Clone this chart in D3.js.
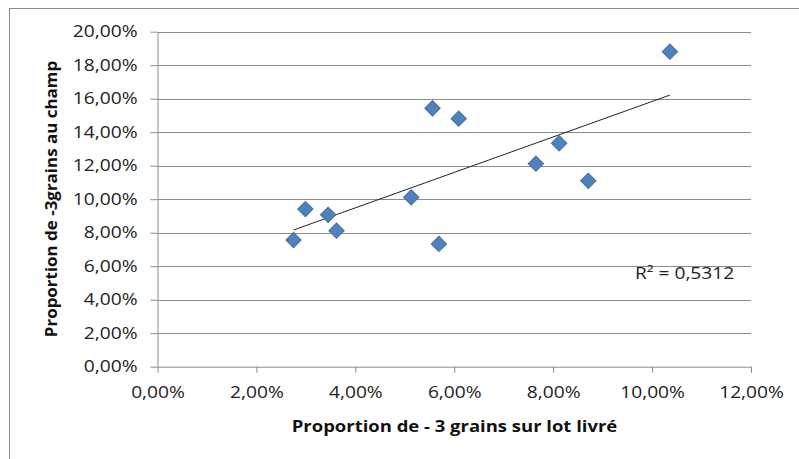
<!DOCTYPE html>
<html><head><meta charset="utf-8">
<script src="https://cdn.jsdelivr.net/npm/d3@7"></script>
<style>body{margin:0;background:#fff}svg{display:block}text{font-family:"Open Sans",sans-serif}</style>
</head><body><svg id="c" width="799" height="459"></svg>
<script>
// Data (percent values)
const xVals = [2.75, 2.99, 3.45, 3.62, 5.13, 5.56, 5.69, 6.09, 7.65, 8.12, 8.71, 10.36];
const yVals = [7.56, 9.41, 9.07, 8.12, 10.11, 15.43, 7.33, 14.81, 12.12, 13.34, 11.10, 18.81];
const xTicks = [0, 2, 4, 6, 8, 10, 12];
const yTicks = [0, 2, 4, 6, 8, 10, 12, 14, 16, 18, 20];
const xTitle = "Proportion de - 3 grains sur lot livré";
const yTitle = "Proportion de -3grains au champ";
const r2Label = "R² = 0,5312";

const SX = 1.2; // horizontal text stretch
const svg = d3.select("#c");
const x = d3.scaleLinear().domain([0, 12]).range([157.5, 751]);
const y = d3.scaleLinear().domain([0, 20]).range([366.7, 31.7]);
const fmt = v => d3.format(".2f")(v).replace(".", ",") + "%";
const grid = "#8c8c8c";

svg.append("rect").attr("x", 9.5).attr("y", 8.5).attr("width", 820).attr("height", 480)
  .attr("fill", "#fff").attr("stroke", grid).attr("stroke-width", 1);

function stretch(sel, sx) {
  sel.each(function () {
    const t = d3.select(this);
    const tx = +t.attr("x") || 0, ty = +t.attr("y") || 0;
    t.attr("x", 0).attr("y", 0).attr("transform", `translate(${tx},${ty}) scale(${sx},1)`);
  });
}

// gridlines
svg.append("g").selectAll("line").data(yTicks.filter(d => d > 0)).join("line")
  .attr("x1", x(0)).attr("x2", x(12)).attr("y1", d => Math.round(y(d)) + 0.5).attr("y2", d => Math.round(y(d)) + 0.5)
  .attr("stroke", grid).attr("stroke-width", 1);

// y axis
const gy = svg.append("g").attr("transform", `translate(${x(0)},0)`)
  .call(d3.axisLeft(y).tickValues(yTicks).tickFormat(fmt).tickSizeInner(7).tickSizeOuter(0).tickPadding(13));
gy.select(".domain").attr("stroke", grid);
gy.selectAll(".tick line").attr("stroke", grid);
gy.selectAll("text").attr("font-size", 16).attr("fill", "#222");
stretch(gy.selectAll("text"), SX);

// x axis
const gx = svg.append("g").attr("transform", `translate(0,${y(0)})`)
  .call(d3.axisBottom(x).tickValues(xTicks).tickFormat(fmt).tickSizeInner(6).tickSizeOuter(0).tickPadding(14));
gx.select(".domain").attr("stroke", grid);
gx.selectAll(".tick line").attr("stroke", grid);
gx.selectAll("text").attr("font-size", 16).attr("fill", "#222");
stretch(gx.selectAll("text"), SX);

// trendline (least squares)
const n = xVals.length;
const mx = d3.mean(xVals), my = d3.mean(yVals);
let sxy = 0, sxx = 0;
for (let i = 0; i < n; i++) { sxy += (xVals[i] - mx) * (yVals[i] - my); sxx += (xVals[i] - mx) ** 2; }
const b = sxy / sxx, a = my - b * mx;
const x0 = d3.min(xVals), x1 = d3.max(xVals);
svg.append("line").attr("x1", x(x0)).attr("y1", y(a + b * x0)).attr("x2", x(x1)).attr("y2", y(a + b * x1))
  .attr("stroke", "#222").attr("stroke-width", 1);

// markers
const pts = xVals.map((v, i) => [v, yVals[i]]);
svg.append("g").selectAll("path").data(pts).join("path")
  .attr("d", d3.symbol(d3.symbolSquare, 118)())
  .attr("transform", d => `translate(${x(d[0])},${y(d[1])}) rotate(45)`)
  .attr("fill", "#4f81bd").attr("stroke", "#4a6fa5").attr("stroke-width", 1);

// R² label
const r2 = svg.append("text").attr("x", 635).attr("y", 279).attr("font-size", 16).attr("fill", "#222").text(r2Label);
stretch(r2, 1.2);

// axis titles
const xt = svg.append("text").attr("x", 454.5).attr("y", 432).attr("text-anchor", "middle")
  .attr("font-size", 16).attr("font-weight", "bold").attr("fill", "#111").text(xTitle);
stretch(xt, 1.155);
svg.append("text").attr("transform", `translate(57,199) rotate(-90) scale(1.06,1)`)
  .attr("text-anchor", "middle").attr("font-size", 16).attr("font-weight", "bold").attr("fill", "#111").text(yTitle);
</script></body></html>
